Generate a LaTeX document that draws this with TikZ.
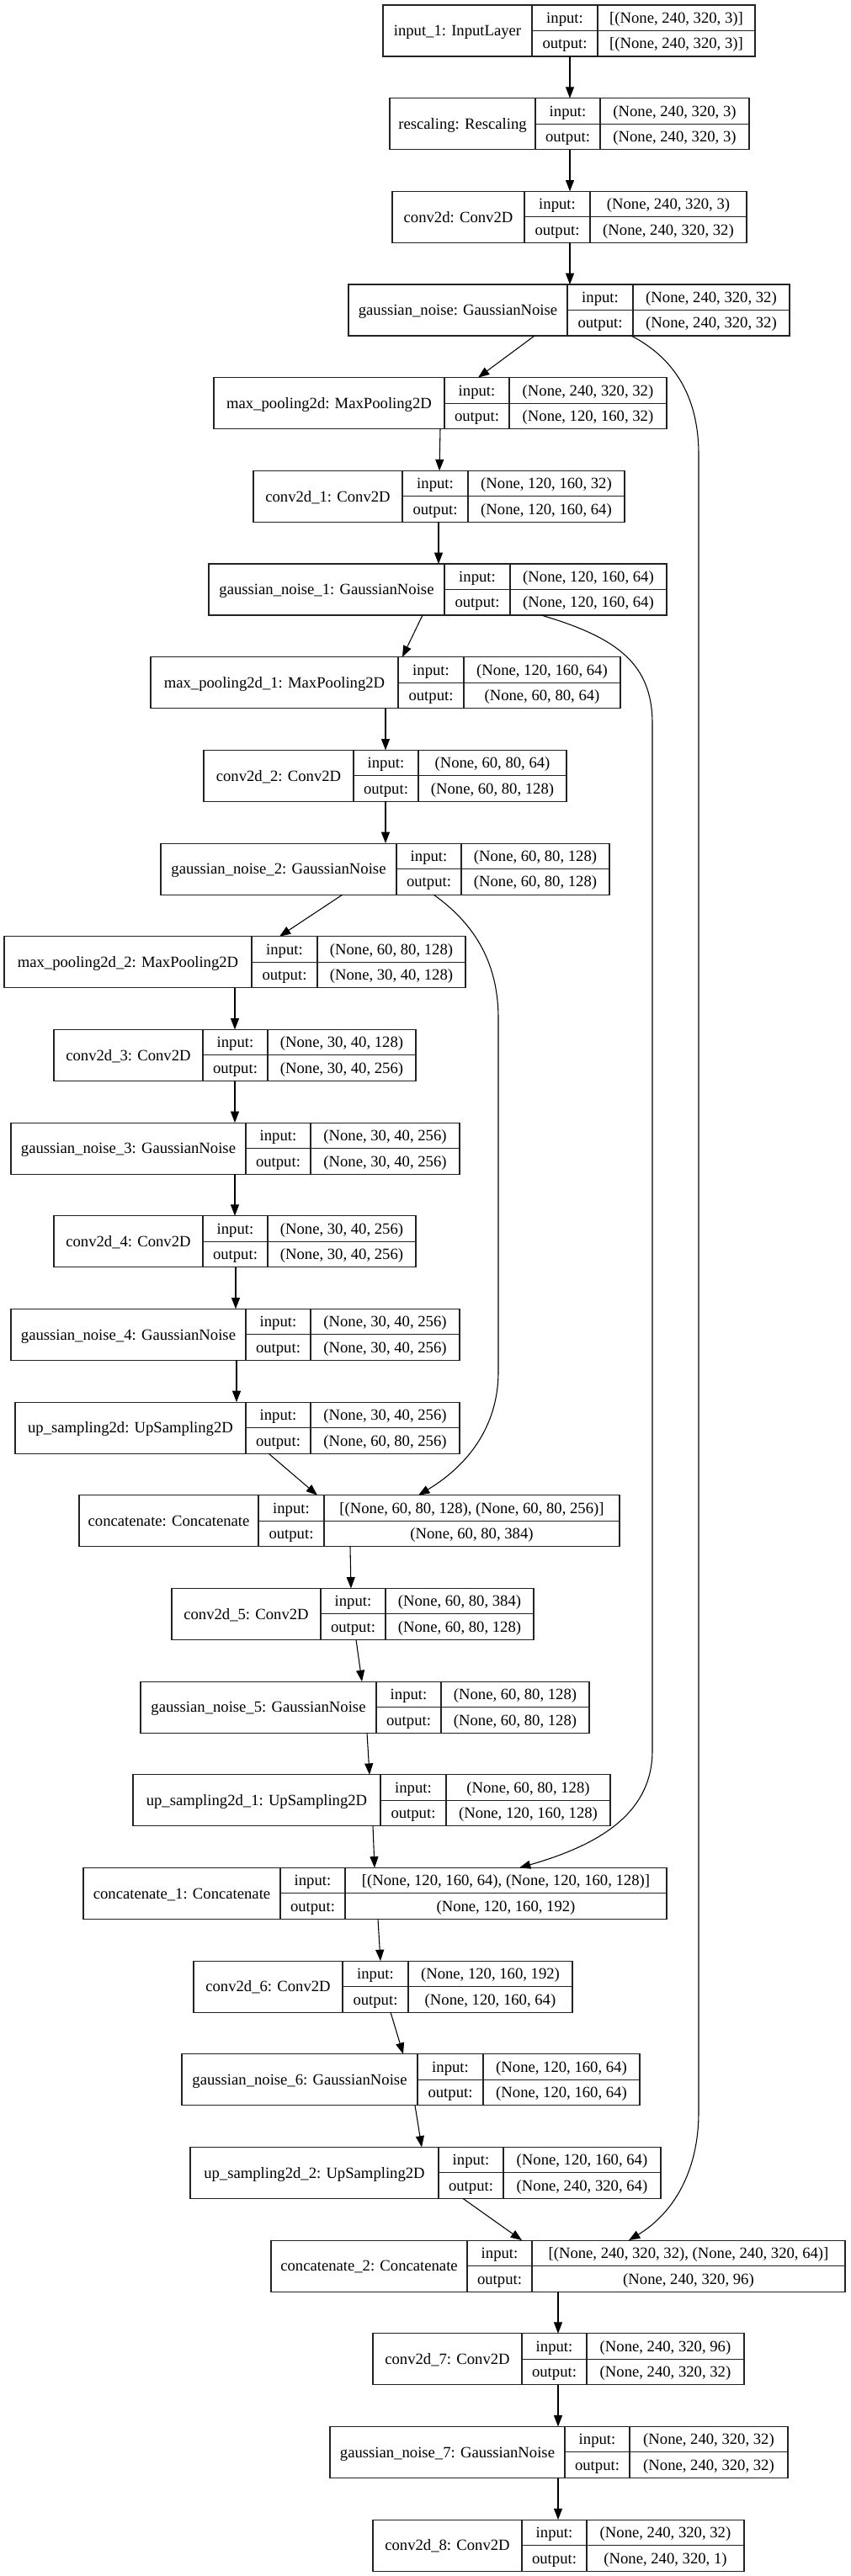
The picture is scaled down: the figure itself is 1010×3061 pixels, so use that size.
\documentclass[tikz,border=0pt]{standalone}
\usepackage{fontspec}
\setmainfont{Liberation Serif}
\usetikzlibrary{arrows.meta}
\definecolor{boxline}{HTML}{222222}
\tikzset{
  layer/.style={draw=boxline, line width=0.8pt, rectangle, inner sep=0pt, outer sep=0pt, minimum height=45.75pt},
  cellline/.style={draw=boxline, line width=0.8pt},
  txt/.style={inner sep=0pt, text height=9.3pt, text depth=0pt, font=\fontsize{14}{16}\selectfont},
  arr/.style={draw=black, line width=0.8pt, -{Triangle[length=10pt,width=7.5pt]}},
}
\newcommand\layerbox[9]{%
  \pgfmathsetmacro\lbT{6+#2*110.67}%
  \pgfmathsetmacro\lbB{\lbT+61}%
  \pgfmathsetmacro\lbM{\lbT+30.5}%
  \pgfmathsetmacro\lbX{(#3+#6)/2}%
  \pgfmathsetmacro\lbW{(#6-#3)*0.75}%
  \node[layer, minimum width=\lbW pt] (#1) at (\lbX,\lbM) {};
  \draw[cellline] (#4,\lbT) -- (#4,\lbB) (#5,\lbT) -- (#5,\lbB) (#4,\lbM) -- (#6,\lbM);
  \node[txt] (#1-name) at ({(#3+#4)/2},\lbM) {#7};
  \node[txt] (#1-il) at ({(#4+#5)/2},{\lbT+15.25}) {input:};
  \node[txt] (#1-ol) at ({(#4+#5)/2},{\lbT+45.75}) {output:};
  \node[txt] (#1-iv) at ({(#5+#6)/2},{\lbT+15.25}) {#8};
  \node[txt] (#1-ov) at ({(#5+#6)/2},{\lbT+45.75}) {#9};
}
\begin{document}
\begin{tikzpicture}[x=0.75pt,y=-0.75pt]
\fill[white] (0,0) rectangle (1010,3061);
\useasboundingbox (0,0) rectangle (1010,3061);

\layerbox{in1}{0}{455}{632}{710}{897}{input\_1: InputLayer}{[(None, 240, 320, 3)]}{[(None, 240, 320, 3)]}
\layerbox{resc}{1}{463}{636}{713}{890}{rescaling: Rescaling}{(None, 240, 320, 3)}{(None, 240, 320, 3)}
\layerbox{c0}{2}{466}{623}{701}{887}{conv2d: Conv2D}{(None, 240, 320, 3)}{(None, 240, 320, 32)}
\layerbox{g0}{3}{414}{674}{752}{938}{gaussian\_noise: GaussianNoise}{(None, 240, 320, 32)}{(None, 240, 320, 32)}
\layerbox{m0}{4}{254}{528}{605}{792}{max\_pooling2d: MaxPooling2D}{(None, 240, 320, 32)}{(None, 120, 160, 32)}
\layerbox{c1}{5}{301}{478}{556}{742}{conv2d\_1: Conv2D}{(None, 120, 160, 32)}{(None, 120, 160, 64)}
\layerbox{g1}{6}{248}{528}{606}{792}{gaussian\_noise\_1: GaussianNoise}{(None, 120, 160, 64)}{(None, 120, 160, 64)}
\layerbox{m1}{7}{179}{473}{551}{737}{max\_pooling2d\_1: MaxPooling2D}{(None, 120, 160, 64)}{(None, 60, 80, 64)}
\layerbox{c2}{8}{242}{420}{497}{673}{conv2d\_2: Conv2D}{(None, 60, 80, 64)}{(None, 60, 80, 128)}
\layerbox{g2}{9}{191}{471}{548}{724}{gaussian\_noise\_2: GaussianNoise}{(None, 60, 80, 128)}{(None, 60, 80, 128)}
\layerbox{m2}{10}{5}{299}{377}{553}{max\_pooling2d\_2: MaxPooling2D}{(None, 60, 80, 128)}{(None, 30, 40, 128)}
\layerbox{c3}{11}{64}{241}{318}{494}{conv2d\_3: Conv2D}{(None, 30, 40, 128)}{(None, 30, 40, 256)}
\layerbox{g3}{12}{13}{292}{369}{546}{gaussian\_noise\_3: GaussianNoise}{(None, 30, 40, 256)}{(None, 30, 40, 256)}
\layerbox{c4}{13}{64}{241}{318}{494}{conv2d\_4: Conv2D}{(None, 30, 40, 256)}{(None, 30, 40, 256)}
\layerbox{g4}{14}{13}{292}{369}{546}{gaussian\_noise\_4: GaussianNoise}{(None, 30, 40, 256)}{(None, 30, 40, 256)}
\layerbox{u0}{15}{18}{292}{369}{546}{up\_sampling2d: UpSampling2D}{(None, 30, 40, 256)}{(None, 60, 80, 256)}
\layerbox{k0}{16}{94}{307}{385}{736}{concatenate: Concatenate}{[(None, 60, 80, 128), (None, 60, 80, 256)]}{(None, 60, 80, 384)}
\layerbox{c5}{17}{204}{381}{458}{634}{conv2d\_5: Conv2D}{(None, 60, 80, 384)}{(None, 60, 80, 128)}
\layerbox{g5}{18}{167}{447}{524}{700}{gaussian\_noise\_5: GaussianNoise}{(None, 60, 80, 128)}{(None, 60, 80, 128)}
\layerbox{u1}{19}{158}{452}{530}{725}{up\_sampling2d\_1: UpSampling2D}{(None, 60, 80, 128)}{(None, 120, 160, 128)}
\layerbox{k1}{20}{99}{333}{410}{792}{concatenate\_1: Concatenate}{[(None, 120, 160, 64), (None, 120, 160, 128)]}{(None, 120, 160, 192)}
\layerbox{c6}{21}{230}{407}{485}{680}{conv2d\_6: Conv2D}{(None, 120, 160, 192)}{(None, 120, 160, 64)}
\layerbox{g6}{22}{216}{496}{574}{760}{gaussian\_noise\_6: GaussianNoise}{(None, 120, 160, 64)}{(None, 120, 160, 64)}
\layerbox{u2}{23}{226}{521}{598}{785}{up\_sampling2d\_2: UpSampling2D}{(None, 120, 160, 64)}{(None, 240, 320, 64)}
\layerbox{k2}{24}{322}{555}{632}{1004}{concatenate\_2: Concatenate}{[(None, 240, 320, 32), (None, 240, 320, 64)]}{(None, 240, 320, 96)}
\layerbox{c7}{25}{443}{620}{697}{884}{conv2d\_7: Conv2D}{(None, 240, 320, 96)}{(None, 240, 320, 32)}
\layerbox{g7}{26}{392}{671}{748}{936}{gaussian\_noise\_7: GaussianNoise}{(None, 240, 320, 32)}{(None, 240, 320, 32)}
\layerbox{c8}{27}{443}{620}{697}{884}{conv2d\_8: Conv2D}{(None, 240, 320, 32)}{(None, 240, 320, 1)}

% straight connectors
\draw[arr] (in1.south -| 677,0) -- (resc.north -| 677,0);
\draw[arr] (resc.south -| 677,0) -- (c0.north -| 677,0);
\draw[arr] (c0.south -| 677,0) -- (g0.north -| 677,0);
\draw[arr] (g0.south -| 635,0) -- (m0.north -| 568,0);
\draw[arr] (m0.south -| 523,0) -- (c1.north -| 522,0);
\draw[arr] (c1.south -| 521,0) -- (g1.north -| 521,0);
\draw[arr] (g1.south -| 502,0) -- (m1.north -| 478,0);
\draw[arr] (m1.south -| 458,0) -- (c2.north -| 458,0);
\draw[arr] (c2.south -| 458,0) -- (g2.north -| 458,0);
\draw[arr] (g2.south -| 407,0) -- (m2.north -| 332,0);
\draw[arr] (m2.south -| 279,0) -- (c3.north -| 279,0);
\draw[arr] (c3.south -| 279,0) -- (g3.north -| 279,0);
\draw[arr] (g3.south -| 279,0) -- (c4.north -| 279,0);
\draw[arr] (c4.south -| 280,0) -- (g4.north -| 280,0);
\draw[arr] (g4.south -| 281,0) -- (u0.north -| 281,0);
\draw[arr] (u0.south -| 319,0) -- (k0.north -| 377,0);
\draw[arr] (k0.south -| 416,0) -- (c5.north -| 417,0);
\draw[arr] (c5.south -| 423,0) -- (g5.north -| 430,0);
\draw[arr] (g5.south -| 436,0) -- (u1.north -| 439,0);
\draw[arr] (u1.south -| 443,0) -- (k1.north -| 445,0);
\draw[arr] (k1.south -| 449,0) -- (c6.north -| 452,0);
\draw[arr] (c6.south -| 464,0) -- (g6.north -| 479,0);
\draw[arr] (g6.south -| 493,0) -- (u2.north -| 501,0);
\draw[arr] (u2.south -| 550,0) -- (k2.north -| 620,0);
\draw[arr] (k2.south -| 663,0) -- (c7.north -| 663,0);
\draw[arr] (c7.south -| 663,0) -- (g7.north -| 663,0);
\draw[arr] (g7.south -| 663,0) -- (c8.north -| 663,0);

% skip connectors
\draw[arr] (g0.south -| 750,0) .. controls (800,425) and (830,470) .. (830,540)
  -- (830,2510) .. controls (830,2580) and (800,2630) .. (k2.north -| 747,0);
\draw[arr] (g1.south -| 643,0) .. controls (735,758) and (775,790) .. (775,860)
  -- (775,2080) .. controls (775,2150) and (720,2190) .. (k1.north -| 617,0);
\draw[arr] (g2.south -| 515,0) .. controls (560,1095) and (592,1140) .. (592,1210)
  -- (592,1630) .. controls (592,1700) and (550,1745) .. (k0.north -| 497,0);
\end{tikzpicture}
\end{document}
